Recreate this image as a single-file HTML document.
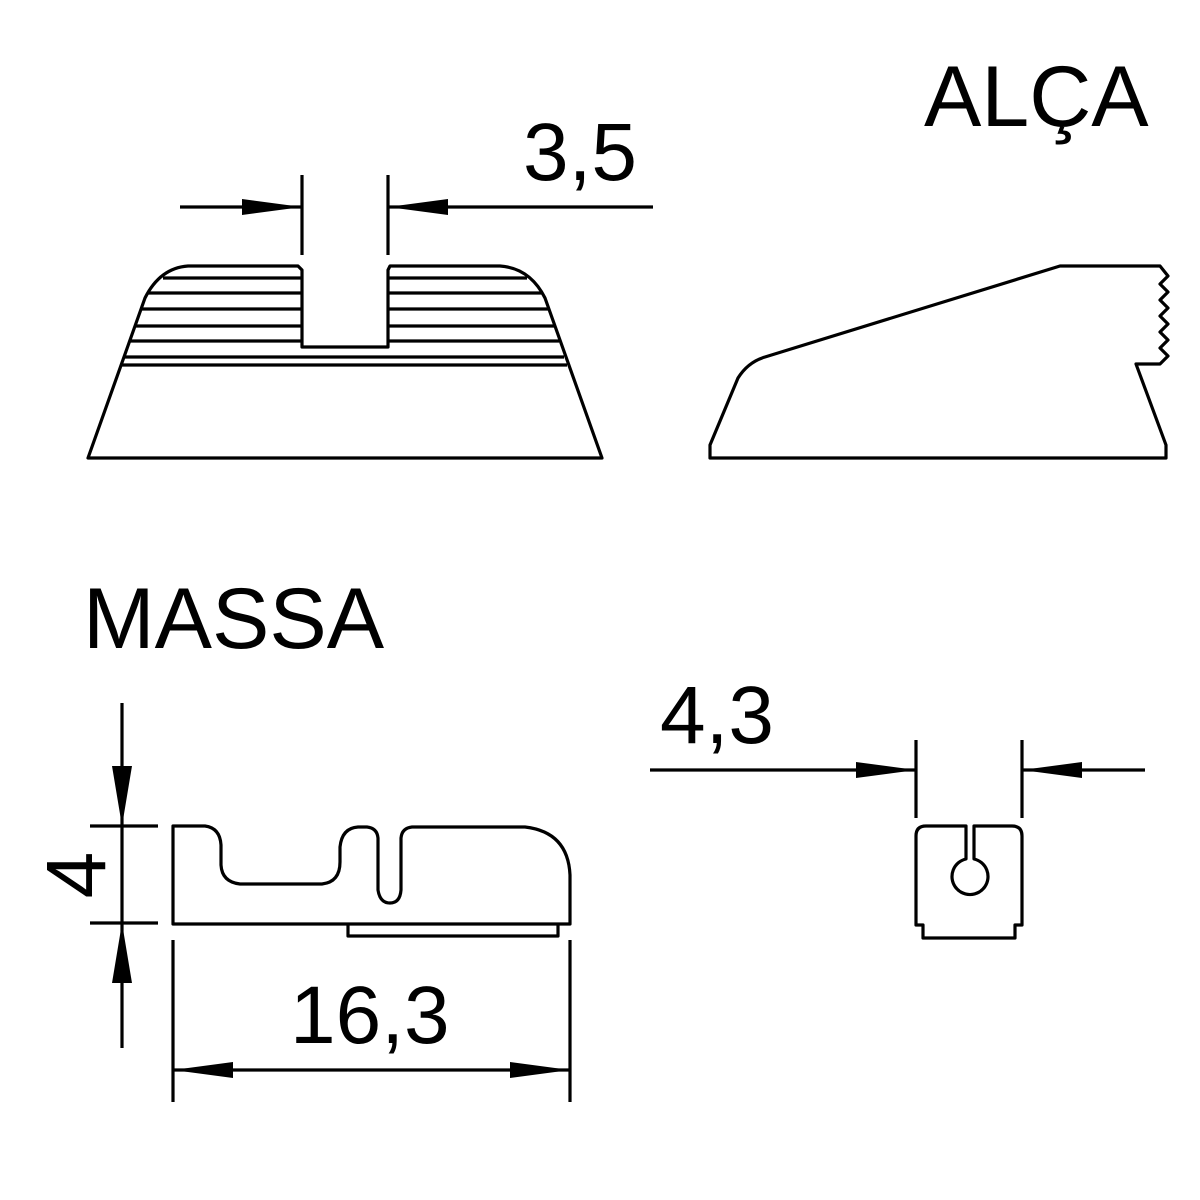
<!DOCTYPE html>
<html><head><meta charset="utf-8"><style>html,body{margin:0;padding:0;background:#fff}svg{display:block}</style></head>
<body>
<svg width="1200" height="1200" viewBox="0 0 1200 1200" xmlns="http://www.w3.org/2000/svg">
<g fill="none" stroke="#000" stroke-width="3.2" stroke-linejoin="round">
<path d="M88,458 L602,458 L545,298 Q530,268 500,266 L390,266 L388,270 L388,347 L302,347 L302,270 L298,266 L188,266 Q160,268 145,298 Z"/>
<path d="M163,278 H302 M388,278 H527 M147,293 H302 M388,293 H543 M141,309 H302 M388,309 H548 M135,326 H302 M388,326 H554 M130,341 H302 M388,341 H559 M125,357 H564 M122,365 H567"/>
<path d="M302,175 V255 M388,175 V255 M180,207 H302 M388,207 H653"/>
<path d="M710,458 L710,445 L738,378 Q748,362 765,357 L1060,266 L1160,266 L1168,276 L1160,284 L1168,292 L1160,300 L1168,308 L1160,316 L1168,324 L1160,332 L1168,340 L1160,348 L1168,356 L1160,364 L1136,364 L1166,445 L1166,458 Z"/>
<path d="M173,924 L173,826 L205,826 Q220,828 221,845 L221,865 Q222,882 240,884 L322,884 Q340,882 340,862 L340,847 Q342,828 358,827 L367,827 Q377,828 378,838 L378,890 Q380,903 390,903 Q400,903 401,890 L401,838 Q402,828 412,827 L525,827 Q568,832 570,875 L570,924 Z"/>
<path d="M348,924 L348,936 L558,936 L558,924"/>
<path d="M122,703 V1048 M90,826 H158 M90,923 H158"/>
<path d="M173,940 V1102 M570,940 V1102 M173,1070 H570"/>
<path d="M916,925 L916,836 Q916,826 926,826 L966,826 L966,859 A18,18 0 1 0 974,859 L974,826 L1012,826 Q1022,826 1022,836 L1022,925 L1015,925 L1015,938 L923,938 L923,925 Z"/>
<path d="M916,740 V818 M1022,740 V818 M650,770 H916 M1022,770 H1145"/>
</g>
<g fill="#000">
<polygon points="302,207 242,199 242,215"/>
<polygon points="388,207 448,199 448,215"/>
<polygon points="122,826 112,766 132,766"/>
<polygon points="122,923 112,983 132,983"/>
<polygon points="173,1070 233,1062 233,1078"/>
<polygon points="570,1070 510,1062 510,1078"/>
<polygon points="916,770 856,762 856,778"/>
<polygon points="1022,770 1082,762 1082,778"/>
</g>
<g font-family="Liberation Sans, sans-serif" fill="#000">
<text x="924" y="126" font-size="86">ALÇA</text>
<text x="523" y="180" font-size="82">3,5</text>
<text x="83" y="648" font-size="86">MASSA</text>
<text x="660" y="743" font-size="82">4,3</text>
<text x="290" y="1043" font-size="82">16,3</text>
<text transform="translate(105,875) rotate(-90)" text-anchor="middle" font-size="84">4</text>
</g>
</svg>
</body></html>
